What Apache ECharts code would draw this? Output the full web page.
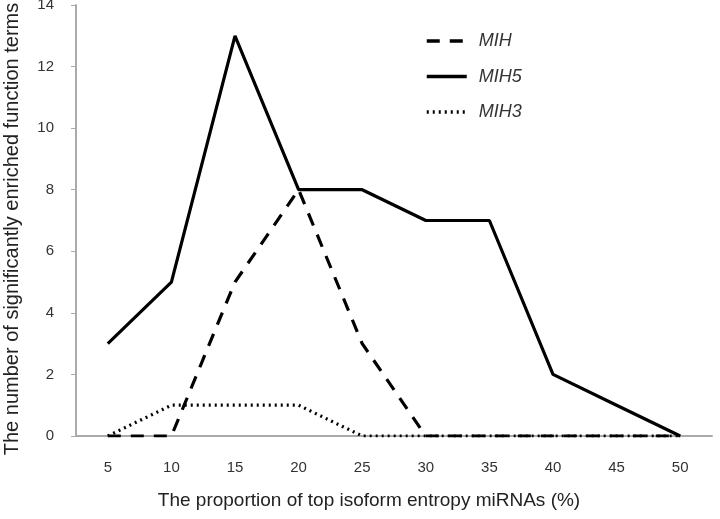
<!DOCTYPE html>
<html><head><meta charset="utf-8">
<script src="https://cdn.jsdelivr.net/npm/echarts@6/dist/echarts.min.js"></script>
<style>html,body{margin:0;padding:0;background:#fff}#c{width:720px;height:519px}</style>
</head><body><div id="c"></div>
<script>
const categories = ['5','10','15','20','25','30','35','40','45','50'];
const mih  = [0,0,5,8,3,0,0,0,0,0];
const mih5 = [3,5,13,8,8,7,7,2,1,0];
const mih3 = [0,1,1,1,0,0,0,0,0,0];
const yTicks = {min:0, max:14, interval:2};
const xTitle = 'The proportion of top isoform entropy miRNAs (%)';
const yTitle = 'The number of significantly enriched function terms';

const font = 'Liberation Sans, Arial, sans-serif';
const chart = echarts.init(document.getElementById('c'), null, {renderer:'canvas'});
chart.setOption({
  animation:false,
  backgroundColor:'#fff',
  grid:{left:76, right:8, top:5, bottom:83, containLabel:false, outerBoundsMode:'none'},
  legend:{
    orient:'vertical', left:420, top:27, itemWidth:40, itemHeight:14, itemGap:17.5,
    itemStyle:{color:'rgba(0,0,0,0)', borderWidth:0},
    lineStyle:{width:3.5},
    textStyle:{fontFamily:font, fontSize:18, fontStyle:'italic', color:'#333', padding:[0,0,0,7]},
    data:['MIH','MIH5','MIH3']
  },
  graphic:[{
    type:'text', x:12, y:229, rotation:Math.PI/2,
    style:{text:yTitle, font:'20px ' + font, fill:'#222', align:'center', verticalAlign:'middle'}
  }],
  xAxis:{
    type:'category', data:categories, boundaryGap:true,
    name:xTitle, nameLocation:'middle', nameGap:55,
    nameTextStyle:{fontFamily:font, fontSize:19, color:'#222', padding:[0,50,0,0]},
    axisLine:{lineStyle:{color:'#aaa', width:2}},
    axisTick:{alignWithLabel:true, length:5, lineStyle:{color:'#aaa'}},
    axisLabel:{fontFamily:font, fontSize:15, color:'#333', margin:24}
  },
  yAxis:{
    type:'value', min:yTicks.min, max:yTicks.max, interval:yTicks.interval,
    axisLine:{show:true, lineStyle:{color:'#aaa', width:2}},
    axisTick:{show:true, length:5, lineStyle:{color:'#aaa'}},
    axisLabel:{fontFamily:font, fontSize:15, color:'#333', margin:22},
    splitLine:{show:false}
  },
  series:[
    {name:'MIH', type:'line', data:mih, symbol:'none', color:'#000',
     lineStyle:{color:'#000', width:3.2, type:[13,10]}},
    {name:'MIH5', type:'line', data:mih5, symbol:'none', color:'#000',
     lineStyle:{color:'#000', width:3.2, type:'solid'}},
    {name:'MIH3', type:'line', data:mih3, symbol:'none', color:'#000', z:3,
     lineStyle:{color:'#000', width:3.2, type:[2,4]}}
  ]
});
</script></body></html>
